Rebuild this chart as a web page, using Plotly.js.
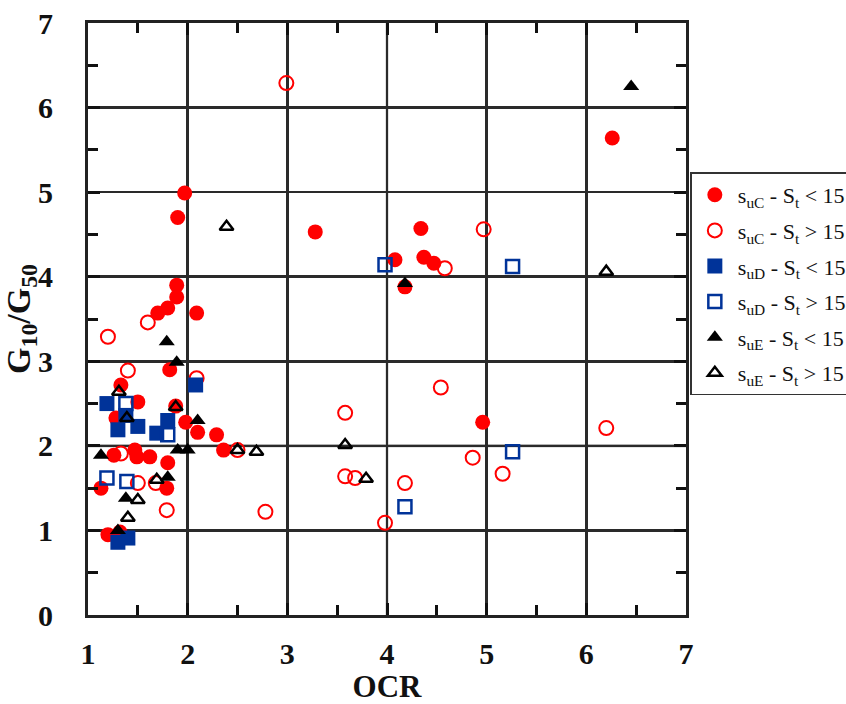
<!DOCTYPE html>
<html><head><meta charset="utf-8">
<script src="https://cdn.plot.ly/plotly-3.0.1.min.js"></script>
<style>html,body{margin:0;padding:0;background:#fff}#chart{width:846px;height:704px}</style>
</head><body><div id="chart"></div>
<script>
// s_uC, St < 15 (filled red circles)
const uC_lo_x = [1.13,1.2,1.32,1.26,1.47,1.49,1.62,1.8,1.79,1.28,1.5,1.33,1.82,1.88,1.98,2.1,2.29,2.36,2.09,1.7,1.8,1.89,1.89,1.9,1.97,3.28,4.08,4.34,4.37,4.47,4.18,4.96,6.26];
const uC_lo_y = [1.50,0.95,0.98,1.89,1.95,1.87,1.87,1.80,1.50,2.33,2.52,2.72,2.90,2.47,2.28,2.16,2.13,1.95,3.57,3.57,3.63,3.76,3.90,4.70,4.99,4.53,4.20,4.57,4.23,4.16,3.88,2.28,5.64];
// s_uC, St > 15 (open red circles)
const uC_hi_x = [1.2,1.6,1.4,2.09,1.33,1.5,1.68,1.79,2.5,2.78,2.99,4.97,4.58,3.58,4.54,3.58,3.68,4.18,3.98,4.86,5.16,6.2];
const uC_hi_y = [3.29,3.46,2.89,2.80,1.91,1.56,1.56,1.24,1.95,1.22,6.29,4.56,4.10,2.39,2.69,1.64,1.62,1.56,1.09,1.86,1.67,2.21];
// s_uD, St < 15 (filled blue squares)
const uD_lo_x = [1.19,1.3,1.38,1.5,1.69,1.8,2.08,1.3,1.4];
const uD_lo_y = [2.50,2.19,2.36,2.23,2.15,2.30,2.72,0.86,0.91];
// s_uD, St > 15 (open blue squares)
const uD_hi_x = [1.38,1.8,1.19,1.39,3.98,5.26,5.26,4.18];
const uD_hi_y = [2.50,2.13,1.62,1.58,4.14,4.12,1.93,1.28];
// s_uE, St < 15 (filled black triangles)
const uE_lo_x = [1.79,1.89,2.1,1.13,1.9,2.0,1.8,1.38,1.3,4.18,6.45];
const uE_lo_y = [3.23,2.99,2.30,1.89,1.95,1.95,1.63,1.38,1.00,3.92,6.25];
// s_uE, St > 15 (open black triangles)
const uE_hi_x = [1.31,1.39,1.88,2.5,2.69,1.69,1.5,1.4,2.39,6.2,3.58,3.79];
const uE_hi_y = [2.64,2.33,2.46,1.95,1.93,1.60,1.36,1.15,4.59,4.06,2.01,1.61];

const names = [
  's<sub>uC</sub> - S<sub>t</sub> &lt; 15',
  's<sub>uC</sub> - S<sub>t</sub> &gt; 15',
  's<sub>uD</sub> - S<sub>t</sub> &lt; 15',
  's<sub>uD</sub> - S<sub>t</sub> &gt; 15',
  's<sub>uE</sub> - S<sub>t</sub> &lt; 15',
  's<sub>uE</sub> - S<sub>t</sub> &gt; 15'
];

const red = '#ff0000', blue = '#003399', black = '#000000';
function tr(x, y, name, g, marker) {
  return {x, y, name, legendgroup: g, type: 'scatter', mode: 'markers', marker, cliponaxis: false};
}
const data = [
  tr(uC_lo_x, uC_lo_y, names[0], 'a', {symbol: 'circle', size: 15, color: red, line: {width: 0}}),
  tr(uC_hi_x, uC_hi_y, names[1], 'b', {symbol: 'circle-open', size: 14, color: red, line: {width: 2, color: red}}),
  tr(uD_lo_x, uD_lo_y, names[2], 'c', {symbol: 'square', size: 15, color: blue, line: {width: 0}}),
  tr(uD_hi_x, uD_hi_y, names[3], 'd', {symbol: 'square-open', size: 13, color: blue, line: {width: 2.5, color: blue}}),
  tr(uE_lo_x, uE_lo_y, names[4], 'e', {symbol: 'triangle-up', size: 14, color: black, line: {width: 0}}),
  tr(uE_hi_x, uE_hi_y, names[5], 'f', {symbol: 'triangle-up-open', size: 12, color: black, line: {width: 2.5, color: black}})
];

const serif = 'Liberation Serif, Times New Roman, serif';
const tickFont = {family: serif, size: 30, color: '#111', weight: 'bold'};
const grey = '#999';
function minorTicks(t0) {
  return {tickmode: 'linear', tick0: t0, dtick: 0.5, ticks: 'inside', ticklen: 10, tickwidth: 3, tickcolor: '#111', showgrid: false};
}
const layout = {
  width: 846, height: 704,
  margin: {l: 88, r: 160, t: 23, b: 89, autoexpand: false},
  paper_bgcolor: '#fff', plot_bgcolor: '#fff',
  showlegend: true,
  xaxis: {
    range: [1, 7], tickmode: 'linear', dtick: 1, tick0: 1,
    showgrid: true, gridcolor: '#2a2a2a', gridwidth: 2.5,
    zeroline: false, showline: true, linecolor: '#222', linewidth: 3, mirror: 'ticks',
    ticks: 'inside', ticklen: 12, tickwidth: 3, tickcolor: '#111',
    minor: minorTicks(0.5),
    tickfont: tickFont, ticklabelstandoff: 10,
    title: {text: 'OCR', font: {family: serif, size: 31, color: '#111', weight: 'bold'}, standoff: 6}
  },
  yaxis: {
    range: [0, 7], tickmode: 'linear', dtick: 1, tick0: 0,
    showgrid: true, gridcolor: '#2a2a2a', gridwidth: 2.5,
    zeroline: false, showline: true, linecolor: '#222', linewidth: 3, mirror: 'ticks',
    ticks: 'inside', ticklen: 12, tickwidth: 3, tickcolor: '#111',
    minor: minorTicks(0.5),
    tickfont: tickFont, ticklabelstandoff: 26,
    title: {text: 'G<sub>10</sub>/G<sub>50</sub>', font: {family: serif, size: 34, color: '#111', weight: 'bold'}, standoff: 0}
  },
  shapes: [
    {type: 'line', xref: 'paper', yref: 'y', x0: 0, x1: 1, y0: 2, y1: 2, line: {color: grey, width: 3}, layer: 'below'},
    {type: 'line', xref: 'paper', yref: 'y', x0: 0, x1: 1, y0: 6, y1: 6, line: {color: grey, width: 3}, layer: 'below'},
    {type: 'line', xref: 'x', yref: 'paper', x0: 3, x1: 3, y0: 0, y1: 1, line: {color: '#888', width: 2.5}, layer: 'below'},
    {type: 'line', xref: 'x', yref: 'paper', x0: 4, x1: 4, y0: 0, y1: 1, line: {color: '#888', width: 2.5}, layer: 'below'}
  ],
  legend: {
    xref: 'container', yref: 'container',
    x: 0.816, xanchor: 'left', y: 0.755, yanchor: 'top',
    bgcolor: '#fff', bordercolor: '#333', borderwidth: 1.5,
    font: {family: serif, size: 22, color: '#111'},
    tracegroupgap: 4, itemwidth: 36
  }
};
Plotly.newPlot('chart', data, layout, {displayModeBar: false, staticPlot: true});
</script>
</body></html>
